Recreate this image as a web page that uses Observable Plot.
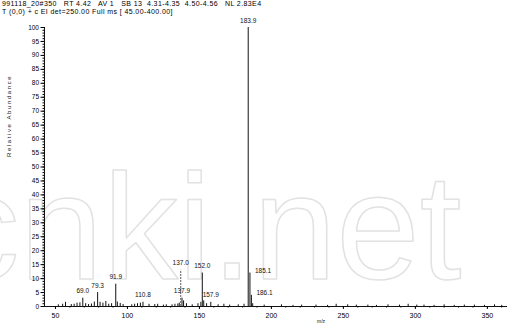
<!DOCTYPE html>
<html>
<head>
<meta charset="utf-8">
<script src="https://cdn.jsdelivr.net/npm/d3@7"></script>
<script src="https://cdn.jsdelivr.net/npm/@observablehq/plot@0.6"></script>
<style>
  html, body { margin: 0; padding: 0; background: #fff; }
  #wrap { position: relative; width: 512px; height: 331px; overflow: hidden; font-family: "Liberation Sans", Arial, sans-serif; color: #000; }
  .hdr { position: absolute; left: 2px; font-size: 7px; line-height: 8px; white-space: pre; letter-spacing: 0.4px; }
</style>
</head>
<body>
<div id="wrap">
  <div class="hdr" id="h1" style="top:0px"></div>
  <div class="hdr" id="h2" style="top:8px"></div>
</div>
<script>
const headerLines = [
  "991118_20#350   RT 4.42   AV 1   SB 13  4.31-4.35  4.50-4.56   NL 2.83E4",
  "T (0,0) + c EI det=250.00 Full ms [ 45.00-400.00]"
];
const xLabel = "m/z";
const yLabel = "Relative Abundance";
const watermark = "cnki.net";

// m/z and relative abundance (%) of every stick
const peakMz = [52, 55, 57, 61, 63, 65, 67, 69.0, 71, 73, 75, 77, 79.3, 81, 83, 85, 87, 89, 91.9, 93, 95, 97,
  103, 105, 107, 109, 110.8, 115, 119, 121, 125, 127, 131, 133, 135, 136, 137.0, 137.9, 139, 141, 145, 149,
  151, 152.0, 153, 155, 157.9, 163, 167, 171, 177, 181, 183.9, 185.1, 186.1, 187, 195, 207, 215, 221, 231,
  239, 245, 253, 259, 267, 273, 281, 289, 295, 301, 306, 313, 320, 327, 334, 341, 348, 355, 360];
const peakAb = [0.6, 0.8, 1.5, 0.7, 0.8, 1.2, 1.3, 3.0, 1.0, 0.7, 0.9, 1.6, 5.0, 1.5, 1.2, 1.8, 0.8, 1.0, 8.0, 1.6, 1.1, 0.7,
  0.6, 0.8, 1.0, 1.2, 1.5, 0.8, 0.7, 0.8, 0.5, 0.6, 0.6, 0.8, 0.9, 1.2, 13.0, 3.0, 2.0, 1.0, 0.6, 1.0,
  1.5, 12.0, 2.0, 1.0, 1.5, 0.6, 0.8, 0.5, 0.6, 0.8, 100, 12.0, 4.0, 1.0, 0.5, 0.6, 0.4, 0.5, 0.5,
  0.4, 0.8, 0.6, 0.5, 0.5, 0.4, 0.6, 0.5, 0.8, 0.5, 0.5, 0.4, 0.6, 0.4, 0.5, 0.5, 0.4, 0.6, 0.4];

// annotated peaks
const labelMz = [69.0, 79.3, 91.9, 110.8, 137.0, 137.9, 152.0, 157.9, 183.9, 185.1, 186.1];
const labelAb = [3.0, 5.0, 8.0, 1.5, 13.0, 3.0, 12.0, 1.5, 100, 12.0, 4.0];
const labelText = ["69.0", "79.3", "91.9", "110.8", "137.0", "137.9", "152.0", "157.9", "183.9", "185.1", "186.1"];
const sideLabels = ["185.1", "186.1"];
const dashedPeaks = [137.0];

const xMajor = [50, 100, 150, 200, 250, 300, 350];
const xMinor = d3.range(50, 361, 10);
const yMajor = d3.range(0, 101, 5);
const yMinor = d3.range(0, 101, 1);

document.getElementById("h1").textContent = headerLines[0];
document.getElementById("h2").textContent = headerLines[1];

const peaks = peakMz.map((mz, i) => ({mz, ab: peakAb[i]}));
const solid = peaks.filter(d => !dashedPeaks.includes(d.mz));
const dashed = peaks.filter(d => dashedPeaks.includes(d.mz));
const labels = labelMz.map((mz, i) => ({mz, ab: labelAb[i], text: labelText[i]}));
const topLabels = labels.filter(d => !sideLabels.includes(d.text));
const rightLabels = labels.filter(d => sideLabels.includes(d.text));

const chart = Plot.plot({
  width: 512,
  height: 331,
  marginTop: 27,
  marginBottom: 25,
  marginLeft: 44,
  marginRight: 5,
  style: {fontFamily: "Liberation Sans, Arial, sans-serif", background: "transparent", color: "#000"},
  x: {domain: [42.4, 364]},
  y: {domain: [0, 100]},
  marks: [
    Plot.text([watermark], {frameAnchor: "bottom-left", textAnchor: "start", lineAnchor: "bottom",
      dx: -100, dy: -28, fontSize: 150, fill: "none", stroke: "#e2e2e2", strokeWidth: 1.5}),
    Plot.ruleY([0], {stroke: "#111", strokeWidth: 1}),
    Plot.ruleX([42.4], {y1: 0, y2: 100, stroke: "#111", strokeWidth: 1}),
    Plot.axisY(yMinor, {tickSize: 1.5, text: null, label: null}),
    Plot.axisY(yMajor, {tickSize: 3.5, tickPadding: 2, fontSize: 6.5, label: null}),
    Plot.axisX(xMinor, {tickSize: 1.5, text: null, label: null}),
    Plot.axisX(xMajor, {tickSize: 3, tickPadding: 4, fontSize: 7, label: null}),
    Plot.ruleX(solid, {x: "mz", y1: 0, y2: "ab", stroke: "#111", strokeWidth: 1}),
    Plot.ruleX(dashed, {x: "mz", y1: 0, y2: "ab", stroke: "#777", strokeWidth: 1.2, strokeDasharray: "2,1"}),
    Plot.text(topLabels, {x: "mz", y: "ab", text: "text", dy: -7, fontSize: 6.5, fill: "#111"}),
    Plot.text(rightLabels, {x: "mz", y: "ab", text: "text", dx: 5, dy: -2, textAnchor: "start", fontSize: 6.5, fill: "#111"}),
    Plot.text([xLabel], {frameAnchor: "bottom", dx: 45, dy: 16, fontSize: 5, fill: "#111"}),
    Plot.text([yLabel], {frameAnchor: "left", rotate: -90, dx: -35, dy: -10, fontSize: 6, fill: "#111"})
  ]
});
d3.select(chart).selectAll("text").filter(function(){ return this.textContent === yLabel; }).style("letter-spacing", "1.6px");
document.getElementById("wrap").appendChild(chart);
chart.style.position = "absolute";
chart.style.left = "0px";
chart.style.top = "0px";
</script>
</body>
</html>
